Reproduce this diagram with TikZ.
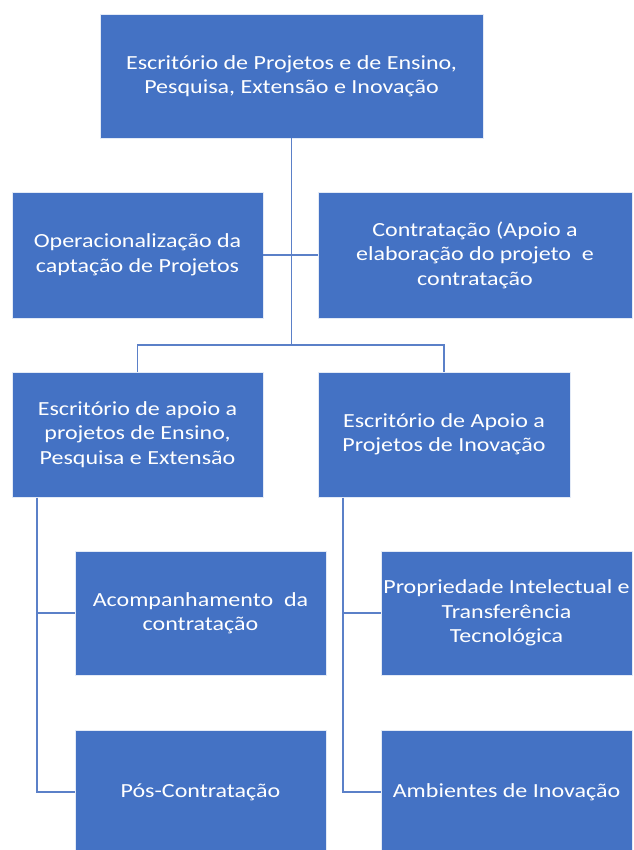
\documentclass[tikz,border=0pt]{standalone}
\usepackage{fontspec}
\setmainfont{Carlito}[FakeStretch=1.2]
\definecolor{boxblue}{HTML}{4472C4}
\definecolor{linkblue}{HTML}{5B80C8}
\begin{document}
\begin{tikzpicture}[x=1pt,y=-1pt,
  orgbox/.style={rectangle, fill=boxblue, draw=white!85!boxblue, line width=0.8pt,
    text=white, align=center, inner sep=2pt,
    font=\fontsize{20}{24.5}\selectfont},
  link/.style={draw=linkblue, line width=1.2pt}]
\useasboundingbox (0,0) rectangle (633,850);
\node[orgbox, minimum width=383, minimum height=124] (top) at (291.5,76)
  {Escritório de Projetos e de Ensino,\\Pesquisa, Extensão e Inovação};
\node[orgbox, minimum width=251, minimum height=126] (op) at (137.5,255)
  {Operacionalização da\\captação de Projetos};
\node[orgbox, minimum width=314, minimum height=126] (con) at (475,255)
  {Contratação (Apoio a\\elaboração do projeto\ \ e\\contratação};
\node[orgbox, minimum width=251, minimum height=125] (esc1) at (137.5,434.5)
  {Escritório de apoio a\\projetos de Ensino,\\Pesquisa e Extensão};
\node[orgbox, minimum width=252, minimum height=125] (esc2) at (444,434.5)
  {Escritório de Apoio a\\Projetos de Inovação};
\node[orgbox, minimum width=251, minimum height=124] (acomp) at (200.5,613)
  {Acompanhamento\ \ da\\contratação};
\node[orgbox, minimum width=251, minimum height=124] (prop) at (506.5,613)
  {Propriedade\ Intelectual e\\Transferência\\Tecnológica};
\node[orgbox, minimum width=251, minimum height=124] (pos) at (200.5,792)
  {Pós-Contratação};
\node[orgbox, minimum width=251, minimum height=124] (amb) at (506.5,792)
  {Ambientes de Inovação};
\coordinate (bus) at (291.5,345);
\coordinate (lt) at (37,497.5);
\coordinate (rt) at (343,497.5);
\draw[link] (top.south) -- (bus);
\draw[link] (op.east) -- (con.west);
\draw[link] (esc1.north) -- (esc1.north |- bus) -- (esc2.north |- bus) -- (esc2.north);
\draw[link] (lt) |- (pos.west);
\draw[link] (lt |- acomp.west) -- (acomp.west);
\draw[link] (rt) |- (amb.west);
\draw[link] (rt |- prop.west) -- (prop.west);
\end{tikzpicture}
\end{document}
